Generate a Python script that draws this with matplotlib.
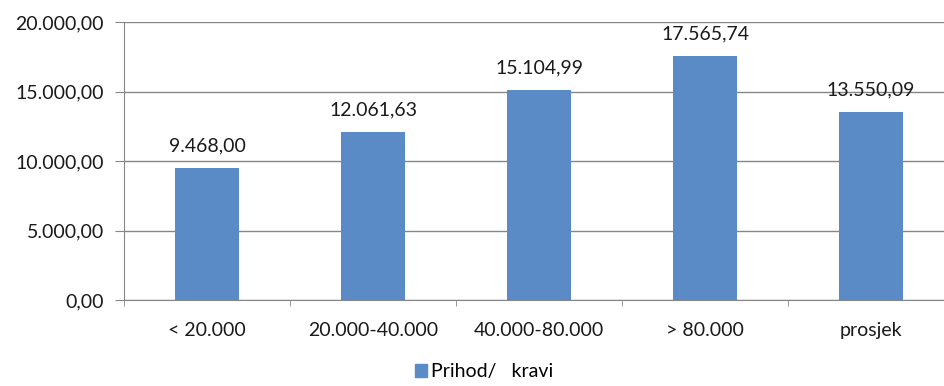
import matplotlib.pyplot as plt
from matplotlib.ticker import FuncFormatter
from matplotlib.patches import Patch

categories = ['< 20.000', '20.000-40.000', '40.000-80.000', '> 80.000', 'prosjek']
values = [9468.00, 12061.63, 15104.99, 17565.74, 13550.09]
series_name = 'Prihod/   kravi'


def hr_fmt(v, _=None):
    # croatian number format: 12.345,67
    s = '{:,.2f}'.format(v)
    return s.replace(',', 'X').replace('.', ',').replace('X', '.')


plt.rcParams['font.family'] = ['Lato', 'DejaVu Sans']
bar_color = '#5B8BC6'
grid_color = '#868686'
text_color = '#1a1a1a'
fs = 14

fig = plt.figure(figsize=(9.45, 3.86), dpi=100)
ax = fig.add_axes([124/945, 1 - 300/386, 830/945, 278/386])

x = range(len(categories))
ax.bar(x, values, width=0.39, color=bar_color, zorder=3)
for xi, v in zip(x, values):
    ax.annotate(hr_fmt(v), (xi, v), xytext=(0, 12), textcoords='offset points',
                ha='center', va='baseline', fontsize=fs, color=text_color)

ax.set_xlim(-0.5, len(categories) - 0.5)
ax.set_ylim(0, 20000)
ax.set_yticks([0, 5000, 10000, 15000, 20000])
ax.yaxis.set_major_formatter(FuncFormatter(hr_fmt))
ax.set_xticks(x)
ax.set_xticklabels(categories)
ax.set_xticks([i - 0.5 for i in range(len(categories) + 1)], minor=True)
ax.tick_params(axis='x', which='major', length=0, pad=16, labelsize=fs, colors=text_color)
ax.tick_params(axis='x', which='minor', length=4.5, color=grid_color)
ax.tick_params(axis='y', length=6.5, labelsize=fs, colors=text_color, pad=8)
ax.tick_params(axis='y', color=grid_color)
ax.grid(axis='y', color=grid_color, linewidth=1, zorder=0)
for side in ['top', 'right']:
    ax.spines[side].set_visible(False)
for side in ['left', 'bottom']:
    ax.spines[side].set_color(grid_color)

fig.legend(handles=[Patch(color=bar_color, label=series_name)], loc='center',
           bbox_to_anchor=(484/945, 1 - 372/386), frameon=False, fontsize=fs,
           handlelength=0.6, handleheight=0.6, handletextpad=0.2)

fig.savefig('out.png', dpi=100)
